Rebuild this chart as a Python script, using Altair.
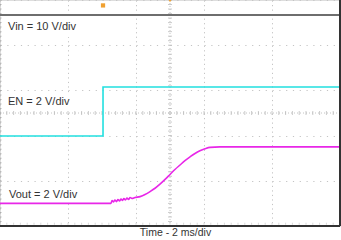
import altair as alt
import pandas as pd
import numpy as np

# time in ms (2 ms/div, 10 div), vertical in divisions (-5..5)
vin_t = [0, 20]
vin_y = [4.34, 4.34]

en_t = [0, 6.06, 6.06, 20]
en_y = [-1.02, -1.02, 1.15, 1.15]

vout_t = [0, 6.53, 6.59, 6.68, 6.76, 6.85, 6.94, 7.03, 7.12, 7.21, 7.29, 7.38,
          7.47, 7.56, 7.65, 7.76, 7.94, 8.24, 8.53, 8.82, 9.12, 9.41, 9.71,
          10.0, 10.29, 10.59, 10.88, 11.18, 11.47, 11.76, 12.06, 12.35, 12.94, 20]
vout_y = [-4.00, -4.00, -3.87, -3.94, -3.85, -3.92, -3.83, -3.89, -3.81, -3.87,
          -3.78, -3.85, -3.76, -3.83, -3.74, -3.78, -3.74, -3.70, -3.61, -3.48,
          -3.33, -3.15, -2.94, -2.72, -2.50, -2.30, -2.11, -1.94, -1.79, -1.67,
          -1.58, -1.52, -1.50, -1.50]

marker_t = [6.06]
marker_y = [4.76]
center_marker_t = [10]
center_marker_y = [4.97]

labels = ["Vin = 10 V/div", "EN = 2 V/div", "Vout = 2 V/div"]

FONT = "Liberation Sans"

xs = alt.Scale(domain=[0, 20], nice=False, zero=False)
ys = alt.Scale(domain=[-5, 5], nice=False, zero=False)

def line_df(t, y):
    return pd.DataFrame({"t": t, "y": y, "i": list(range(len(t)))})

base_x_axis = alt.Axis(values=list(np.arange(0, 20.01, 2)), labels=False, ticks=False,
                       domain=False, grid=True, gridColor="#c4c4c4", gridWidth=1,
                       gridDash=[1.2, 3.32], title="Time - 2 ms/div",
                       titleFont=FONT, titleFontSize=10.5, titleFontWeight="normal",
                       titleColor="#333333", titlePadding=1, titleX=175)
base_y_axis = alt.Axis(values=list(np.arange(-5, 5.01, 1)), labels=False, ticks=False,
                       domain=False, grid=True, gridColor="#c4c4c4", gridWidth=1,
                       gridDash=[1.2, 5.6], title=None)

grid = alt.Chart(line_df(vin_t, vin_y)).mark_point(opacity=0).encode(
    x=alt.X("t:Q", scale=xs, axis=base_x_axis),
    y=alt.Y("y:Q", scale=ys, axis=base_y_axis),
)

# center cross + minor ticks
cx = pd.DataFrame({"t": np.round(np.arange(0, 20.01, 0.4), 3), "y": 0.0})
cy = pd.DataFrame({"t": 10.0, "y": np.round(np.arange(-5, 5.01, 0.2), 3)})
center_h = alt.Chart(cx).mark_tick(orient="vertical", size=4, thickness=1, color="#b4b4b4").encode(
    x=alt.X("t:Q", scale=xs), y=alt.Y("y:Q", scale=ys))
center_v = alt.Chart(cy).mark_tick(orient="horizontal", size=4, thickness=1, color="#b4b4b4").encode(
    x=alt.X("t:Q", scale=xs), y=alt.Y("y:Q", scale=ys))
crossh = alt.Chart(pd.DataFrame({"y": [0.0]})).mark_rule(color="#c4c4c4", strokeDash=[1, 2]).encode(
    y=alt.Y("y:Q", scale=ys))
crossv = alt.Chart(pd.DataFrame({"t": [10.0]})).mark_rule(color="#c4c4c4", strokeDash=[1, 2]).encode(
    x=alt.X("t:Q", scale=xs))

# edge minor ticks
lx = pd.DataFrame({"t": 0.0, "y": np.round(np.arange(-5, 5.01, 0.2), 3)})
left_ticks = alt.Chart(lx).mark_tick(orient="horizontal", size=3, thickness=1, color="#9a9a9a").encode(
    x=alt.X("t:Q", scale=xs), y=alt.Y("y:Q", scale=ys))
bx = pd.DataFrame({"t": np.round(np.arange(0, 20.01, 0.4), 3), "y": -4.9})
bottom_ticks = alt.Chart(bx).mark_tick(orient="vertical", size=2, thickness=1, color="#c8c8c8").encode(
    x=alt.X("t:Q", scale=xs), y=alt.Y("y:Q", scale=ys))

# label boxes and text
box_x1 = [4, 4, 3]
box_x2 = [97, 95, 95]
box_y1 = [17, 93, 183]
box_y2 = [37, 111, 201]
tpos = [(8, 26.5), (8, 102.2), (9, 194.5)]
boxes = []
texts = []
for k, lab in enumerate(labels):
    boxes.append(alt.Chart(pd.DataFrame({"lab": [lab]})).mark_rect(color="white").encode(
        x=alt.value(box_x1[k]), x2=alt.value(box_x2[k]),
        y=alt.value(box_y1[k]), y2=alt.value(box_y2[k])))
    texts.append(alt.Chart(pd.DataFrame({"lab": [lab]})).mark_text(
        align="left", baseline="middle", font=FONT, fontSize=11, color="#333333").encode(
        x=alt.value(tpos[k][0]), y=alt.value(tpos[k][1]), text="lab:N"))

def trace(t, y, color, w, interp="linear"):
    return alt.Chart(line_df(t, y)).mark_line(color=color, strokeWidth=w, interpolate=interp).encode(
        x=alt.X("t:Q", scale=xs), y=alt.Y("y:Q", scale=ys), order="i:Q")

vin = trace(vin_t, vin_y, "#6e6e6e", 2)
en = trace(en_t, en_y, "#22e0e0", 1.6)
vout = trace(vout_t, vout_y, "#e827e8", 1.6, "monotone")

mk1 = alt.Chart(pd.DataFrame({"t": marker_t, "y": marker_y})).mark_point(
    shape="square", filled=True, size=18, color="#f0a030", opacity=1).encode(
    x=alt.X("t:Q", scale=xs), y=alt.Y("y:Q", scale=ys))
mk2 = alt.Chart(pd.DataFrame({"t": center_marker_t, "y": center_marker_y})).mark_point(
    shape="triangle-down", filled=True, size=14, color="#f0a030", opacity=1).encode(
    x=alt.X("t:Q", scale=xs), y=alt.Y("y:Q", scale=ys))

right_border = alt.Chart(pd.DataFrame({"t": [20.0]})).mark_rule(color="#333333", strokeWidth=2).encode(
    x=alt.X("t:Q", scale=xs))
bottom_border = alt.Chart(pd.DataFrame({"y": [-5.0]})).mark_rule(color="#333333", strokeWidth=2).encode(
    y=alt.Y("y:Q", scale=ys))

chart = alt.layer(
    grid, crossh, crossv, center_h, center_v, left_ticks, bottom_ticks,
    *boxes, *texts, vin, en, vout, mk1, mk2, right_border, bottom_border
).properties(
    width=340, height=226,
    autosize=alt.AutoSizeParams(type="none"),
    padding={"left": 0, "top": 0, "right": 1, "bottom": 14},
).configure_view(stroke="#555555", strokeWidth=1).configure(background="white")

chart.save("out.html", embed_options={"renderer": "svg", "actions": False})
